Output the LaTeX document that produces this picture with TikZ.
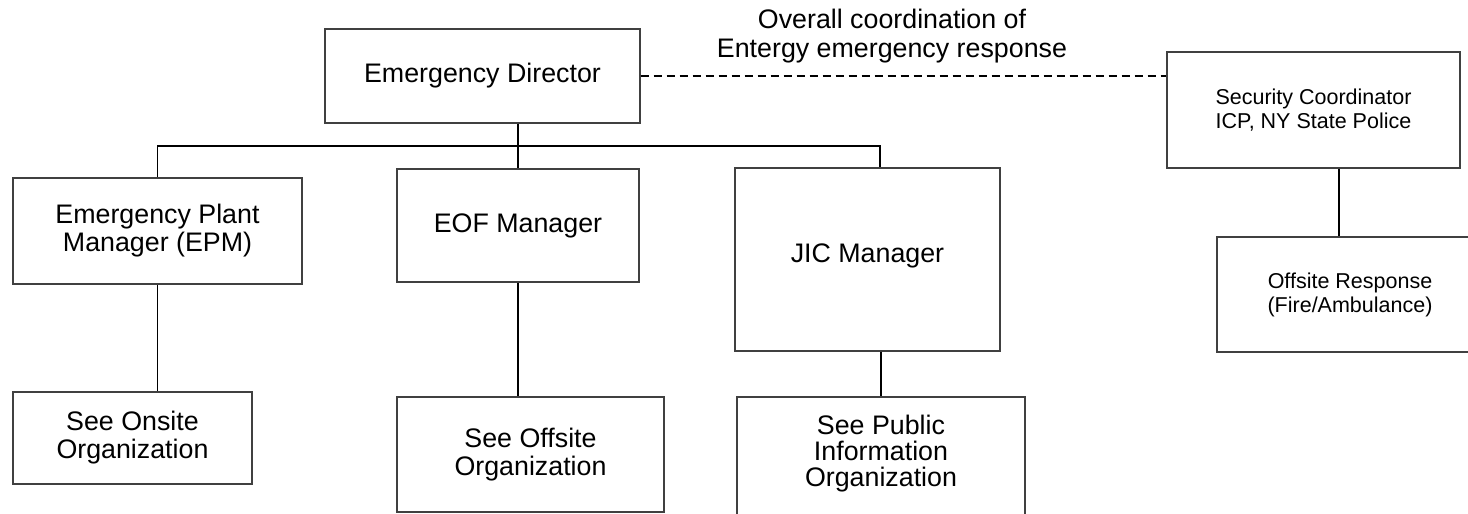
\documentclass[tikz,border=0pt]{standalone}
\usepackage{fontspec}
\setmainfont{Liberation Sans}

\begin{document}
\begin{tikzpicture}[x=0.5pt,y=-0.5pt,
		box/.style={rectangle,draw=black!75,line width=0.6pt,inner sep=0pt,align=center,font=\fontsize{13.4}{14}\selectfont},
		smallbox/.style={box,font=\fontsize{10.75}{12}\selectfont},
		link/.style={line width=0.9pt}]
		\useasboundingbox (0,0) rectangle (1468,514);
		\clip (0,0) rectangle (1468,514);
		
		\node[box,minimum width=157.5pt,minimum height=47pt] (ED) at (482.5,76) {Emergency Director};
		\node[align=center,font=\fontsize{13.4}{14.5}\selectfont] (note) at (892,36) {Overall coordination of\\Entergy emergency response};
		
		\node[box,minimum width=144.5pt,minimum height=53pt] (EPM) at (157.5,231) {Emergency Plant\\Manager (EPM)};
		\node[box,minimum width=121pt,minimum height=56.5pt] (EOF) at (518,225.5) {EOF Manager};
		\node[box,minimum width=132.5pt,minimum height=91.5pt] (JIC) at (867.5,259.5) {JIC Manager\\[-7.5pt]};
		
		\node[box,minimum width=119.5pt,minimum height=46pt] (EPM1) at (132.5,438) {See Onsite\\Organization};
		\node[box,minimum width=133.5pt,minimum height=57.5pt] (EOF1) at (530.5,454.5) {See Offsite\\Organization};
		\node[box,minimum width=144pt,minimum height=61.5pt,font=\fontsize{13.4}{13}\selectfont] (JIC1) at (881,458.5) {See Public\\Information\\Organization\\[-5pt]};
		
		\node[smallbox,minimum width=146.5pt,minimum height=58pt] (SC) at (1313.5,110) {Security Coordinator\\ICP, NY State Police};
		\node[smallbox,minimum width=133pt,minimum height=57.5pt] (SC1) at (1350,294.5) {Offsite Response\\(Fire/Ambulance)};
		
		\coordinate (bus) at (0,146);
		\coordinate (J) at ([xshift=6.25pt]JIC.north);
		
		\draw[link] (ED.south -| EOF.north) -- (EOF.north);
		\draw[link] (EPM.north) |- (J |- bus) -- (J);
		
		\draw[link] (EPM.south) -- (EPM.south |- EPM1.north);
		\draw[link] (EOF.south) -- (EOF.south |- EOF1.north);
		\draw[link] (JIC1.north |- JIC.south) -- (JIC1.north);
		
		\draw[link] ([xshift=12.75pt]SC.south) -- ([xshift=12.75pt]SC.south |- SC1.north);
		\draw[link,dash pattern=on 4pt off 2.5pt,line width=1pt] (ED.east) -- (ED.east -| SC.west);

	\end{tikzpicture}
\end{document}
